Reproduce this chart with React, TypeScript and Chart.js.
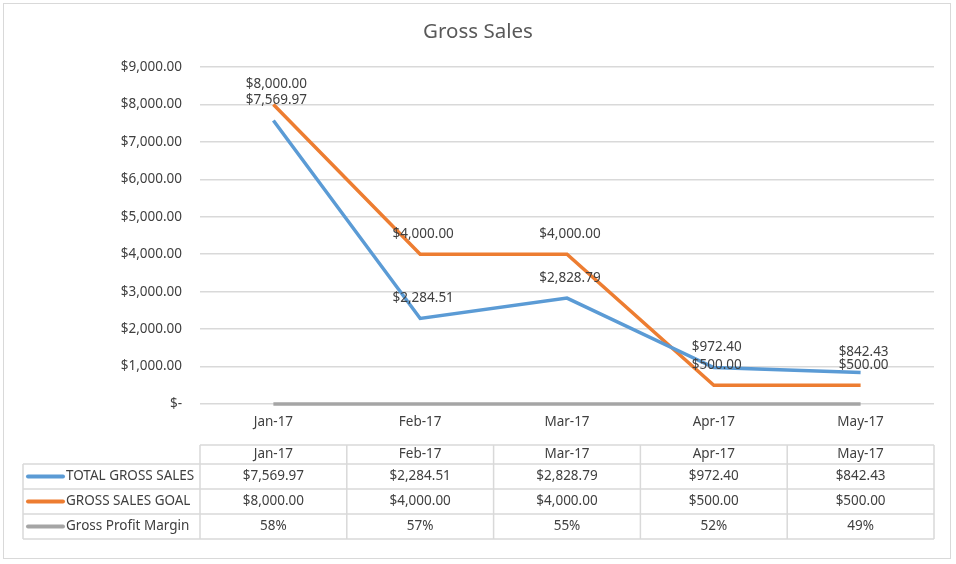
import React, { useEffect, useRef } from "react";
import { Chart, registerables } from "chart.js";

Chart.register(...registerables);

const months = ["Jan-17", "Feb-17", "Mar-17", "Apr-17", "May-17"];
const totalGrossSales = [7569.97, 2284.51, 2828.79, 972.4, 842.43];
const grossSalesGoal = [8000, 4000, 4000, 500, 500];
const grossProfitMargin = [0.58, 0.57, 0.55, 0.52, 0.49];
const seriesNames = ["TOTAL GROSS SALES", "GROSS SALES GOAL", "Gross Profit Margin"];
const seriesColors = ["#5B9BD5", "#ED7D31", "#A5A5A5"];
const yTicks = [0, 1000, 2000, 3000, 4000, 5000, 6000, 7000, 8000, 9000];

const FONT = "'Noto Sans', sans-serif";
const TEXT = "#404040";
const FS = 13.5;

const money = (v: number) =>
  "$" + v.toLocaleString("en-US", { minimumFractionDigits: 2, maximumFractionDigits: 2 });
const pct = (v: number) => Math.round(v * 100) + "%";

const extrasPlugin = {
  id: "extras",
  afterDraw(chart: any) {
    const ctx = chart.ctx;
    const area = chart.chartArea;
    const xs = chart.scales.x;
    ctx.save();
    // outer border
    ctx.strokeStyle = "#d9d9d9";
    ctx.lineWidth = 1;
    ctx.strokeRect(3.5, 3.5, 947, 555);
    // title
    ctx.fillStyle = "#595959";
    ctx.font = "20.5px " + FONT;
    ctx.textAlign = "center";
    ctx.textBaseline = "middle";
    ctx.fillText("Gross Sales", chart.width / 2, 32);

    // data labels
    ctx.font = FS + "px " + FONT;
    ctx.fillStyle = TEXT;
    [0, 1].forEach((di) => {
      const meta = chart.getDatasetMeta(di);
      const vals = di === 0 ? totalGrossSales : grossSalesGoal;
      meta.data.forEach((pt: any, i: number) => {
        ctx.fillText(money(vals[i]), pt.x + 3, pt.y - 20);
      });
    });

    // data table
    const n = months.length;
    const colW = (area.right - area.left) / n;
    const top = area.bottom + 41;
    const headerH = 19;
    const rowH = 25;
    const leftX = 23;
    const tableBottom = top + headerH + rowH * 3;
    ctx.strokeStyle = "#d9d9d9";
    ctx.lineWidth = 1.5;
    ctx.beginPath();
    ctx.moveTo(area.left, top);
    ctx.lineTo(area.right, top);
    for (let r = 0; r <= 3; r++) {
      const y = top + headerH + r * rowH;
      ctx.moveTo(leftX, y);
      ctx.lineTo(area.right, y);
    }
    ctx.moveTo(leftX, top + headerH);
    ctx.lineTo(leftX, tableBottom);
    for (let c = 0; c <= n; c++) {
      const x = area.left + c * colW;
      ctx.moveTo(x, top);
      ctx.lineTo(x, tableBottom);
    }
    ctx.stroke();

    ctx.fillStyle = TEXT;
    ctx.font = FS + "px " + FONT;
    ctx.textAlign = "center";
    ctx.textBaseline = "middle";
    months.forEach((m, i) => {
      const cx = xs.getPixelForValue(i);
      ctx.fillText(m, cx, top + headerH / 2);
      ctx.fillText(money(totalGrossSales[i]), cx, top + headerH + rowH * 0.5);
      ctx.fillText(money(grossSalesGoal[i]), cx, top + headerH + rowH * 1.5);
      ctx.fillText(pct(grossProfitMargin[i]), cx, top + headerH + rowH * 2.5);
    });
    seriesNames.forEach((name, r) => {
      const y = top + headerH + rowH * (r + 0.5);
      ctx.strokeStyle = seriesColors[r];
      ctx.lineWidth = 4;
      ctx.lineCap = "round";
      ctx.beginPath();
      ctx.moveTo(28, y);
      ctx.lineTo(63, y);
      ctx.stroke();
      ctx.fillStyle = TEXT;
      ctx.textAlign = "left";
      ctx.fillText(name, 66, y);
    });
    ctx.restore();
  },
};

export default function App() {
  const ref = useRef<HTMLCanvasElement>(null);
  useEffect(() => {
    document.body.style.margin = "0";
    const mk = (i: number, data: number[]) => ({
      label: seriesNames[i],
      data,
      borderColor: seriesColors[i],
      backgroundColor: seriesColors[i],
      borderWidth: 3.5,
      pointRadius: 0,
      tension: 0,
      clip: false as any,
    });
    const chart = new Chart(ref.current as HTMLCanvasElement, {
      type: "line",
      data: {
        labels: months,
        datasets: [
          mk(0, totalGrossSales),
          mk(1, grossSalesGoal),
          mk(2, grossProfitMargin),
        ],
      },
      options: {
        animation: false,
        responsive: false,
        maintainAspectRatio: false,
        layout: { padding: { top: 67, right: 22, left: 0, bottom: 0 } },
        plugins: {
          legend: { display: false },
          title: { display: false },
          tooltip: { enabled: false },
        },
        scales: {
          x: {
            type: "category",
            offset: true,
            grid: { display: false, drawTicks: false },
            border: { display: false },
            ticks: {
              color: TEXT,
              font: { family: FONT, size: FS },
              padding: 10,
              maxRotation: 0,
            },
            afterFit: (s: any) => {
              s.height = 160;
            },
          },
          y: {
            min: 0,
            max: 9000,
            afterBuildTicks: (s: any) => {
              s.ticks = yTicks.map((v) => ({ value: v }));
            },
            grid: { color: "#d9d9d9", lineWidth: 1.5, drawTicks: false },
            border: { display: false },
            ticks: {
              color: TEXT,
              font: { family: FONT, size: FS },
              padding: 18,
              callback: (v: any) => (Number(v) === 0 ? "$-" : money(Number(v))),
            },
            afterFit: (s: any) => {
              s.width = 200;
            },
          },
        },
      },
      plugins: [extrasPlugin],
    });
    return () => chart.destroy();
  }, []);
  return (
    <div style={{ position: "absolute", left: 0, top: 0, width: 956, height: 564, background: "#fff" }}>
      <canvas ref={ref} width={956} height={564} />
    </div>
  );
}
